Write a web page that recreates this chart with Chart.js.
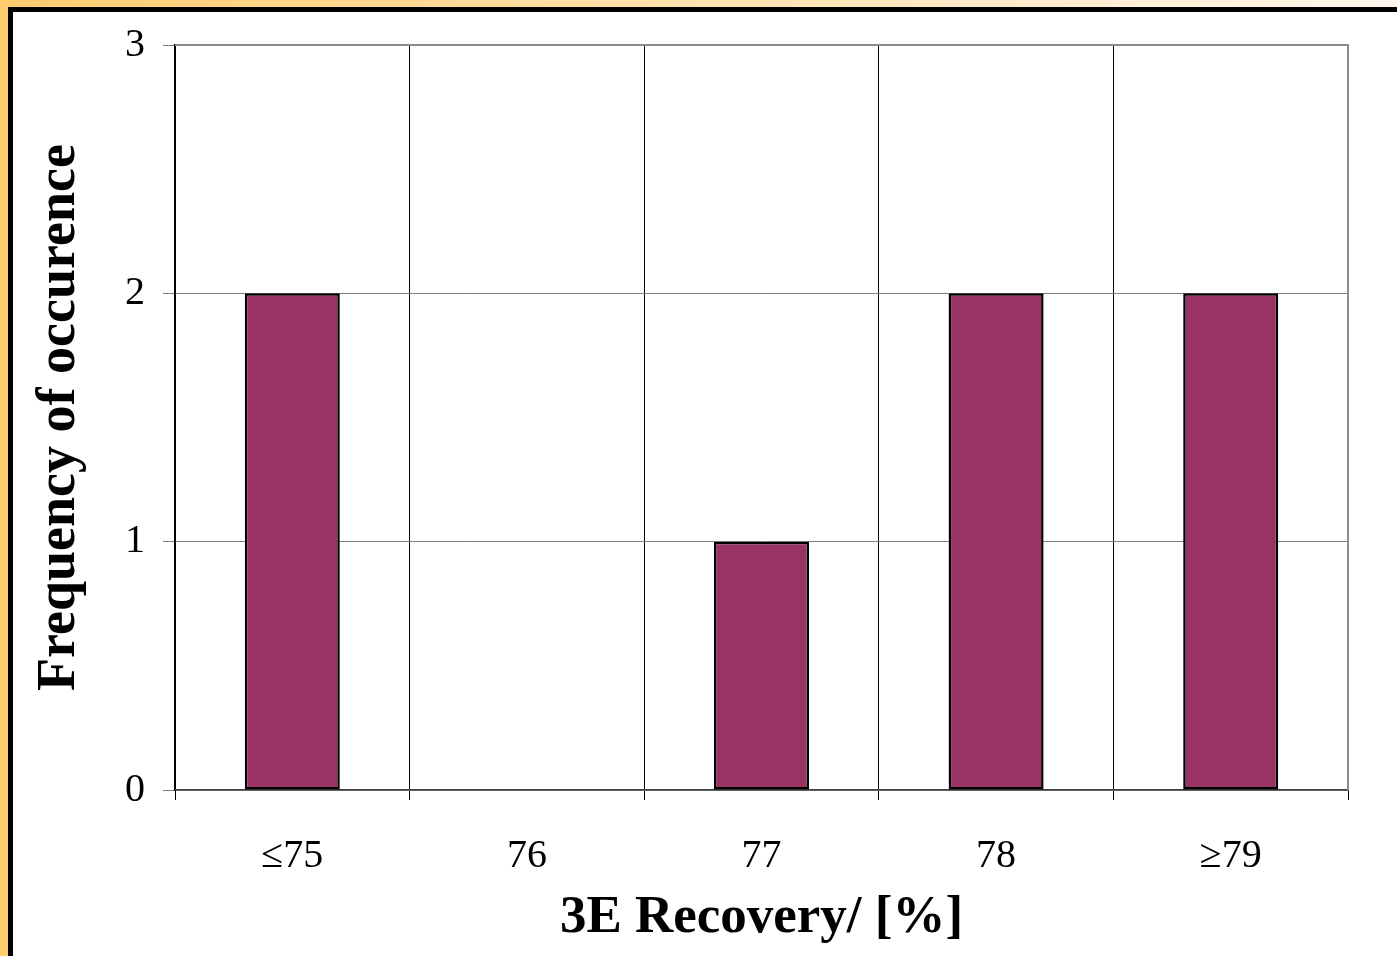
<!DOCTYPE html>
<html>
<head>
<meta charset="utf-8">
<script src="https://cdn.jsdelivr.net/npm/chart.js@4"></script>
<style>
  html, body { margin: 0; padding: 0; background: #ffffff; }
  #frame { position: absolute; left: 0; top: 0; width: 1397px; height: 956px; overflow: hidden; background: #ffffff; }
  #topStrip { position: absolute; left: 0; top: 0; width: 1397px; height: 7px;
    background: linear-gradient(to right, #FFCC6E 0%, #FFE0A8 45%, #FFF6EC 100%); }
  #leftStrip { position: absolute; left: 0; top: 0; width: 8px; height: 956px; background: #FFCC6E; }
  #topBlack { position: absolute; left: 8px; top: 7px; width: 1389px; height: 5px; background: #000; }
  #leftBlack { position: absolute; left: 8px; top: 7px; width: 5px; height: 949px; background: #000; }
  #wrap { position: absolute; left: 13px; top: 12px; width: 1384px; height: 944px; }
</style>
</head>
<body>
<div id="frame">
  <div id="topStrip"></div>
  <div id="leftStrip"></div>
  <div id="topBlack"></div>
  <div id="leftBlack"></div>
  <div id="wrap"><canvas id="c" width="1384" height="944"></canvas></div>
</div>
<script>
const categories = ['\u226475', '76', '77', '78', '\u226579'];
const frequency = [2, 0, 1, 2, 2];
const yMin = 0;
const yMax = 3;
const yStep = 1;
const xTitle = '3E Recovery/ [%]';
const yTitle = 'Frequency of occurence';

const frameBorder = {
  id: 'frameBorder',
  afterDraw(chart) {
    const {ctx, chartArea: a} = chart;
    ctx.save();
    ctx.strokeStyle = '#8c8c8c';
    ctx.lineWidth = 2;
    ctx.beginPath();
    ctx.moveTo(a.left, a.top);
    ctx.lineTo(a.right, a.top);
    ctx.lineTo(a.right, a.bottom);
    ctx.stroke();
    ctx.restore();
  }
};

new Chart(document.getElementById('c'), {
  type: 'bar',
  data: {
    labels: categories,
    datasets: [{
      data: frequency,
      backgroundColor: '#993366',
      borderColor: '#000000',
      borderWidth: 2.5,
      borderSkipped: false,
      barPercentage: 0.405,
      categoryPercentage: 1.0
    }]
  },
  options: {
    responsive: false,
    devicePixelRatio: 1,
    animation: false,
    layout: { padding: { top: 33, right: 49, left: 0, bottom: 0 } },
    plugins: { legend: { display: false }, tooltip: { enabled: false } },
    scales: {
      x: {
        offset: true,
        grid: { offset: true, color: '#000000', lineWidth: 1, tickLength: 10, tickColor: '#000000' },
        border: { color: '#404040', width: 1.5 },
        ticks: { color: '#000000', font: { family: 'Liberation Serif', size: 40 }, padding: 32, maxRotation: 0 },
        title: { display: true, text: xTitle, color: '#000000',
                 font: { family: 'Liberation Serif', size: 53, weight: 'bold' }, padding: { top: 0, bottom: 6 } },
        afterFit(scale) { scale.height = 166; scale.paddingLeft = 0; scale.paddingRight = 0; }
      },
      y: {
        min: yMin, max: yMax,
        grid: { color: '#808080', lineWidth: 1, tickLength: 12, tickColor: '#808080' },
        border: { color: '#000000', width: 1.5 },
        ticks: { stepSize: yStep, color: '#000000', font: { family: 'Liberation Serif', size: 40 }, padding: 18 },
        title: { display: true, text: yTitle, color: '#000000',
                 font: { family: 'Liberation Serif', size: 54, weight: 'bold' }, padding: { top: 15, bottom: 0 } },
        afterFit(scale) { scale.width = 162; scale.paddingTop = 0; scale.paddingBottom = 0; }
      }
    }
  },
  plugins: [frameBorder]
});
</script>
</body>
</html>
